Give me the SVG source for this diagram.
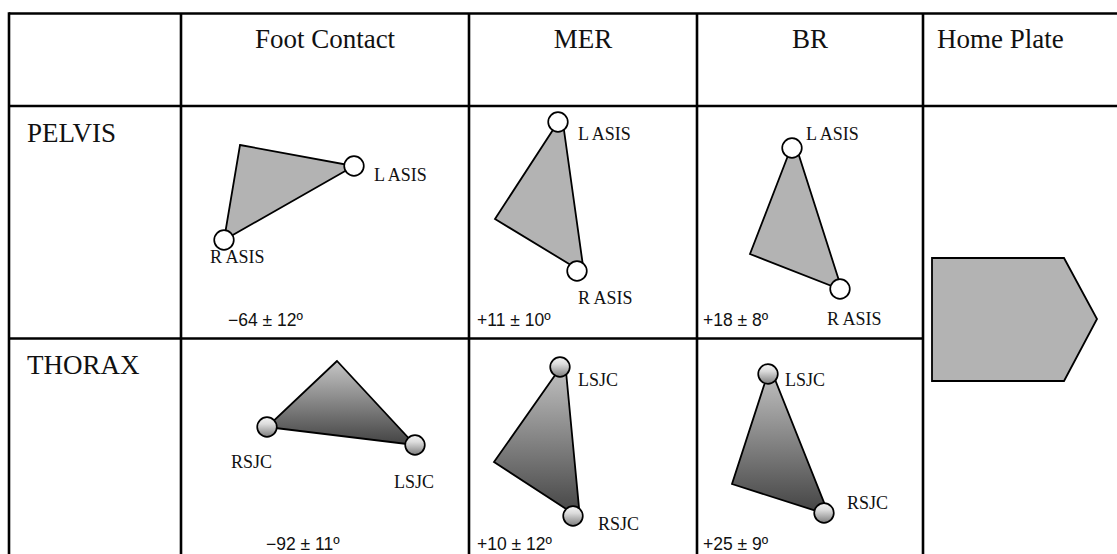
<svg xmlns="http://www.w3.org/2000/svg" width="1117" height="554" viewBox="0 0 1117 554">
  <defs>
    <linearGradient id="thoraxFill" x1="0" y1="0" x2="0" y2="1">
      <stop offset="0" stop-color="#c6c6c6"/>
      <stop offset="1" stop-color="#424242"/>
    </linearGradient>
    <linearGradient id="jointFill" x1="0" y1="0" x2="0" y2="1">
      <stop offset="0" stop-color="#f4f4f4"/>
      <stop offset="0.35" stop-color="#dcdcdc"/>
      <stop offset="1" stop-color="#7e7e7e"/>
    </linearGradient>
    <style>
      .grid { stroke: #000; stroke-width: 2.6; fill: none; }
      .head { font-family: "Liberation Serif", "Times New Roman", serif; font-size: 27px; fill: #111; }
      .lbl { font-family: "Liberation Serif", "Times New Roman", serif; font-size: 18px; fill: #111; }
      .val { font-family: "Liberation Sans", Arial, sans-serif; font-size: 17.5px; fill: #111; }
      .pelvis { fill: #b3b3b3; stroke: #000; stroke-width: 1.8; stroke-linejoin: miter; }
      .thorax { fill: url(#thoraxFill); stroke: #000; stroke-width: 1.8; }
      .asis { fill: #fff; stroke: #000; stroke-width: 1.7; }
      .sjc { fill: url(#jointFill); stroke: #000; stroke-width: 1.7; }
      .plate { fill: #b3b3b3; stroke: #000; stroke-width: 1.8; }
    </style>
  </defs>

  <rect width="1117" height="554" fill="#fff"/>

  <!-- table rules -->
  <g id="grid">
    <line class="grid" x1="9" y1="13.5" x2="1117" y2="13.5"/>
    <line class="grid" x1="9" y1="106" x2="1117" y2="106"/>
    <line class="grid" x1="9" y1="338.5" x2="923" y2="338.5"/>
    <line class="grid" x1="9" y1="12.2" x2="9" y2="554"/>
    <line class="grid" x1="181" y1="13.5" x2="181" y2="554"/>
    <line class="grid" x1="469" y1="13.5" x2="469" y2="554"/>
    <line class="grid" x1="697" y1="13.5" x2="697" y2="554"/>
    <line class="grid" x1="923" y1="13.5" x2="923" y2="554"/>
  </g>

  <!-- column and row headings -->
  <g id="headings">
    <text class="head" x="325" y="48" text-anchor="middle">Foot Contact</text>
    <text class="head" x="583" y="48" text-anchor="middle">MER</text>
    <text class="head" x="810" y="48" text-anchor="middle">BR</text>
    <text class="head" x="937" y="48">Home Plate</text>
    <text class="head" x="27" y="142">PELVIS</text>
    <text class="head" x="27" y="374">THORAX</text>
  </g>

  <!-- pelvis, foot contact -->
  <g id="pelvis-foot-contact">
    <polygon class="pelvis" points="240,145 354,166 224,240"/>
    <circle class="asis" cx="354" cy="166" r="9.8"/>
    <circle class="asis" cx="224" cy="240" r="9.8"/>
    <text class="lbl" x="374" y="181">L ASIS</text>
    <text class="lbl" x="210" y="263">R ASIS</text>
    <text class="val" x="228" y="326">−64 ± 12º</text>
  </g>

  <!-- pelvis, MER -->
  <g id="pelvis-mer">
    <polygon class="pelvis" points="562,116 495,219 584,273"/>
    <circle class="asis" cx="558" cy="122" r="9.8"/>
    <circle class="asis" cx="577" cy="271" r="9.8"/>
    <text class="lbl" x="578" y="140">L ASIS</text>
    <text class="lbl" x="578" y="304">R ASIS</text>
    <text class="val" x="477" y="326">+11 ± 10º</text>
  </g>

  <!-- pelvis, BR -->
  <g id="pelvis-br">
    <polygon class="pelvis" points="794,140 750,254 842,290"/>
    <circle class="asis" cx="792" cy="148" r="9.8"/>
    <circle class="asis" cx="840" cy="289" r="9.8"/>
    <text class="lbl" x="806" y="140">L ASIS</text>
    <text class="lbl" x="827" y="325">R ASIS</text>
    <text class="val" x="703" y="326">+18 ± 8º</text>
  </g>

  <!-- home plate -->
  <g id="home-plate">
    <polygon class="plate" points="932,258 1064,258 1097,319 1064,381 932,381"/>
  </g>

  <!-- thorax, foot contact -->
  <g id="thorax-foot-contact">
    <polygon class="thorax" points="337,361 267,427 415,445"/>
    <circle class="sjc" cx="267" cy="427" r="9.8"/>
    <circle class="sjc" cx="415" cy="445" r="9.8"/>
    <text class="lbl" x="231" y="468">RSJC</text>
    <text class="lbl" x="394" y="488">LSJC</text>
    <text class="val" x="266" y="550">−92 ± 11º</text>
  </g>

  <!-- thorax, MER -->
  <g id="thorax-mer">
    <polygon class="thorax" points="565,361 494,462 580,518"/>
    <circle class="sjc" cx="560" cy="367" r="9.8"/>
    <circle class="sjc" cx="573" cy="516" r="9.8"/>
    <text class="lbl" x="578" y="386">LSJC</text>
    <text class="lbl" x="598" y="530">RSJC</text>
    <text class="val" x="477" y="550">+10 ± 12º</text>
  </g>

  <!-- thorax, BR -->
  <g id="thorax-br">
    <polygon class="thorax" points="770,367 732,484 829,515"/>
    <circle class="sjc" cx="768" cy="374" r="9.8"/>
    <circle class="sjc" cx="824" cy="513" r="9.8"/>
    <text class="lbl" x="785" y="386">LSJC</text>
    <text class="lbl" x="847" y="509">RSJC</text>
    <text class="val" x="703" y="550">+25 ± 9º</text>
  </g>
</svg>
